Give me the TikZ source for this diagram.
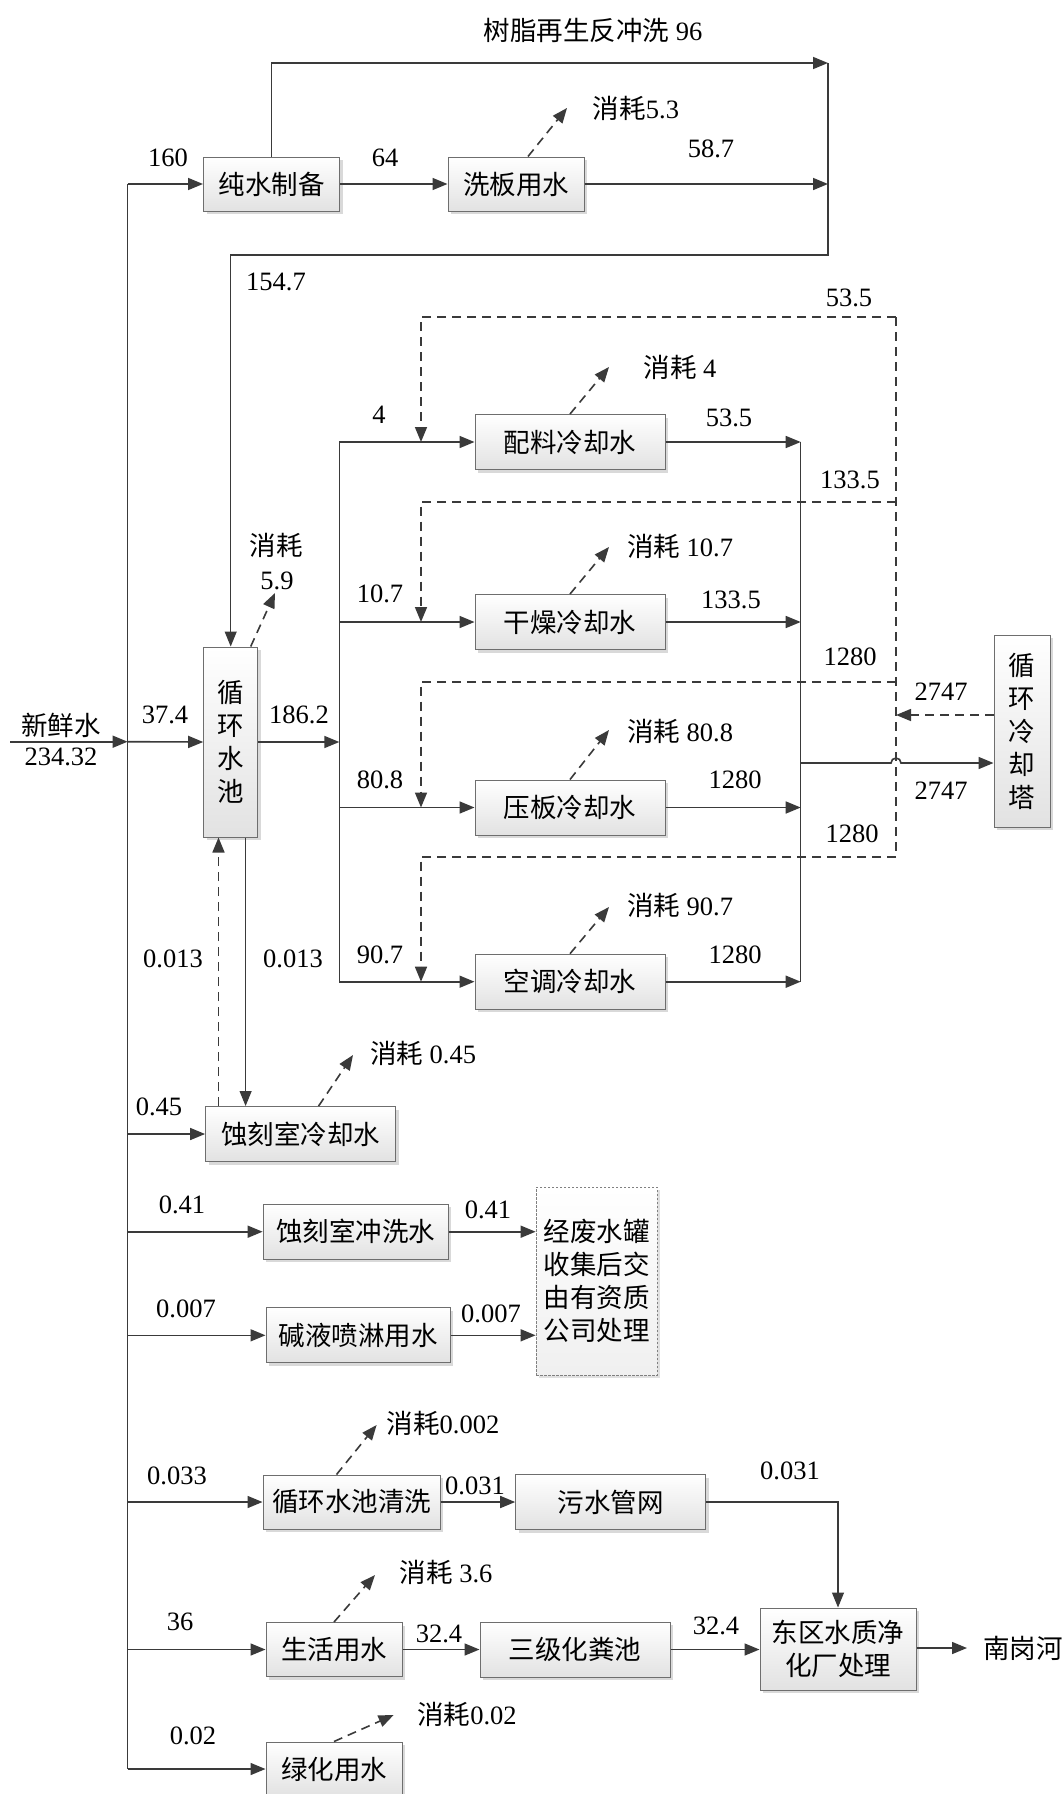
\documentclass[tikz,border=0pt]{standalone}
\usepackage{fontspec}
\setmainfont{Liberation Serif}
\newfontfamily\cjk{Noto Sans CJK SC}
\usetikzlibrary{arrows.meta,shadows}
\definecolor{lc}{HTML}{3A3A3A}
\definecolor{bc}{HTML}{6E6E6E}
\definecolor{boxbot}{HTML}{E2E2E2}
\newcommand\cj[1]{{\cjk #1}}
\begin{document}
\begin{tikzpicture}[x=1pt,y=-1pt,
  every node/.style={font=\fontsize{26.5}{33}\selectfont, inner sep=0pt},
  ln/.style={draw=lc, line width=1.6pt},
  tn/.style={draw=lc, line width=1.1pt},
  arr/.style={ln, -{Triangle[length=15pt,width=12pt]}},
  tarr/.style={tn, -{Triangle[length=15pt,width=12pt]}},
  dln/.style={ln, dash pattern=on 9pt off 6pt},
  darr/.style={arr, dash pattern=on 9pt off 6pt},
  box/.style={draw=bc, line width=1pt, top color=white, bottom color=boxbot, align=center,
    font=\fontsize{26.5}{33}\selectfont\cjk,
    drop shadow={shadow xshift=3pt,shadow yshift=-3pt,fill=black!15,opacity=1}},
  wbox/.style={box, minimum width=190, minimum height=55},
  sbox/.style={box, minimum width=136, minimum height=54},
]
\useasboundingbox[fill=white] (0,0) rectangle (1064,1794);

% ---------------- boxes ----------------
\node[sbox] (chun) at (271.5,184) {纯水制备};
\node[sbox] (xiban) at (516,184) {洗板用水};
\node[box, minimum width=54, minimum height=190] (pool) at (230.7,742) {循\\环\\水\\池};
\node[wbox] (peiliao) at (570,442) {配料冷却水};
\node[wbox] (ganzao) at (570,622) {干燥冷却水};
\node[wbox] (yaban) at (570,807.5) {压板冷却水};
\node[wbox] (kongtiao) at (570,981.7) {空调冷却水};
\node[box, minimum width=56, minimum height=192] (tower) at (1022,731) {循\\环\\冷\\却\\塔};
\node[wbox] (shike) at (300.6,1134) {蚀刻室冷却水};
\node[box, minimum width=185, minimum height=55] (chongxi) at (355.6,1231.7) {蚀刻室冲洗水};
\node[box, minimum width=184, minimum height=55] (jianye) at (358,1335.3) {碱液喷淋用水};
\node[draw=gray, dash pattern=on 2.5pt off 1.5pt, line width=0.8pt, top color=white, bottom color=black!6,
  align=center, font=\fontsize{26.5}{33}\selectfont\cjk, minimum width=121, minimum height=188,
  drop shadow={shadow xshift=3pt,shadow yshift=-3pt,fill=black!12,opacity=1}] (fei) at (596.5,1281)
  {经废水罐\\收集后交\\由有资质\\公司处理};
\node[box, minimum width=177, minimum height=54] (qingxi) at (351.5,1502) {循环水池清洗};
\node[wbox] (wushui) at (610.7,1502) {污水管网};
\node[sbox] (shenghuo) at (334,1649.5) {生活用水};
\node[wbox] (sanji) at (575,1649.5) {三级化粪池};
\node[box, minimum width=156, minimum height=82] (dongqu) at (838,1649) {东区水质净\\化厂处理};
\node[sbox] (lvhua) at (334,1769) {绿化用水};
\node (river) at (1023,1648) {\cj{南岗河}};

% ---------------- coordinates ----------------
\coordinate (fw) at (10,741.7);
\coordinate (tT) at (127.6,184);
\coordinate (tB) at (127.6,1769);
\coordinate (top1) at (271.5,63);
\coordinate (top2) at (828,63);
\coordinate (ret1) at (828,255);
\coordinate (ret2) at (230.7,255);
\coordinate (iT) at (339.3,442);
\coordinate (iB) at (339.3,981.7);
\coordinate (cT) at (800.7,442);
\coordinate (cB) at (800.7,981.7);
\coordinate (r1) at (896,317);
\coordinate (r2) at (896,501.7);
\coordinate (r3) at (896,681.7);
\coordinate (r4) at (896,856.7);
\coordinate (l1) at (421,317);
\coordinate (l2) at (421,501.7);
\coordinate (l3) at (421,681.7);
\coordinate (l4) at (421,856.7);
\coordinate (tw1) at ([yshift=16pt]tower.west);
\coordinate (tw2) at ([yshift=-32pt]tower.west);
\coordinate (hop) at (r1 |- tw2);
\coordinate (wsc) at (838,1502);
\coordinate (riv) at (967,1648);

% ---------------- main flow ----------------
\draw[arr] (fw) -- (fw -| tT);
\draw[ln] (tT) -- (tB);
\draw[arr] (fw -| tT) -- (pool.west);
\draw[arr] (tT) -- (chun.west);
\draw[arr] (chun) -- (xiban);
\draw[arr] (xiban.east) -- (xiban.east -| top2);
\draw[arr] (chun.north) -- (top1) -- (top2);
\draw[tarr] (top2) -- (ret1) -- (ret2) -- (pool.north);
\draw[arr] (pool.east) -- (pool.east -| iT);
\draw[ln] (iT) -- (iB);
\foreach \b in {peiliao,ganzao,yaban,kongtiao}{
  \draw[arr] (\b.west -| iT) -- (\b.west);
  \draw[arr] (\b.east) -- (\b.east -| cT);
}
\draw[tn] (cT) -- (cB);
\draw[arr] (cT |- tw2) -- ([xshift=-5pt]hop) arc[start angle=180,end angle=360,radius=5] -- (tw2);
\draw[darr] (tw1) -- (tw1 -| r1);
\draw[dln] (r1) -- (r4);
\draw[darr] (r1) -- (l1) -- (l1 |- peiliao.west);
\draw[darr] (r2) -- (l2) -- (l2 |- ganzao.west);
\draw[darr] (r3) -- (l3) -- (l3 |- yaban.west);
\draw[darr] (r4) -- (l4) -- (l4 |- kongtiao.west);

% pool <-> etching cooling
\draw[darr] (shike.north -| 218.5,0) -- (pool.south -| 218.5,0);
\draw[tarr] (pool.south -| 245.6,0) -- (shike.north -| 245.6,0);

\foreach \b in {shike,chongxi,jianye,qingxi,shenghuo,lvhua}{
  \draw[arr] (\b.west -| tT) -- (\b.west);
}
\draw[arr] (chongxi.east) -- (chongxi.east -| fei.west);
\draw[arr] (jianye.east) -- (jianye.east -| fei.west);
\draw[arr] (qingxi) -- (wushui);
\draw[tarr] (wushui.east) -- (wsc) -- (dongqu.north);
\draw[arr] (shenghuo) -- (sanji);
\draw[arr] (sanji.east) -- (sanji.east -| dongqu.west);
\draw[arr] (dongqu.east |- riv) -- (riv);

% ---------------- consumption arrows ----------------
\draw[darr] ([xshift=12pt]xiban.north) -- (567,108);
\draw[darr] (peiliao.north) -- (609,367);
\draw[darr] (ganzao.north) -- (609,547);
\draw[darr] (yaban.north) -- (609,730);
\draw[darr] (kongtiao.north) -- (609,907);
\draw[darr] ([xshift=20pt]pool.north) -- (275,593);
\draw[darr] ([xshift=18pt]shike.north) -- (353,1055);
\draw[darr] ([xshift=-15pt]qingxi.north) -- (376.6,1425);
\draw[darr] (shenghuo.north) -- (375,1575);
\draw[darr] (lvhua.north) -- (393.6,1715);

% ---------------- labels ----------------
\node (t0) at (593,30) {\cj{树脂再生反冲洗} 96};
\node (a1) at (168,158) {160};
\node (a2) at (385,158) {64};
\node (a3) at (711,149) {58.7};
\node (a4) at (636,108) {\cj{消耗}5.3};
\node (a5) at (276,282) {154.7};
\node (b1) at (849,298) {53.5};
\node (b2) at (379,415) {4};
\node (b3) at (729,418) {53.5};
\node (b4) at (680,367) {\cj{消耗} 4};
\node (b5) at (850,480) {133.5};
\node (b6) at (380,594) {10.7};
\node (b7) at (731,600) {133.5};
\node (b8) at (680,546) {\cj{消耗} 10.7};
\node (b9) at (276,545) {\cj{消耗}};
\node (b10) at (277,581) {5.9};
\node (c1) at (850,657) {1280};
\node (c2) at (941,692) {2747};
\node (c3) at (380,780) {80.8};
\node (c4) at (735,780) {1280};
\node (c5) at (680,731) {\cj{消耗} 80.8};
\node (c6) at (941,791) {2747};
\node (c7) at (852,834) {1280};
\node (c8) at (380,955) {90.7};
\node (c9) at (735,955) {1280};
\node (c10) at (680,905) {\cj{消耗} 90.7};
\node (d1) at (61,725) {\cj{新鲜水}};
\node (d2) at (61,757) {234.32};
\node (d3) at (165,715) {37.4};
\node (d4) at (299,715) {186.2};
\node (d5) at (173,959) {0.013};
\node (d6) at (293,959) {0.013};
\node (e1) at (159,1107) {0.45};
\node (e2) at (423,1053) {\cj{消耗} 0.45};
\node (e3) at (182,1205) {0.41};
\node (e4) at (488,1210) {0.41};
\node (e5) at (186,1309) {0.007};
\node (e6) at (491,1314) {0.007};
\node (f1) at (443,1423) {\cj{消耗}0.002};
\node (f2) at (177,1476) {0.033};
\node (f3) at (475,1486) {0.031};
\node (f4) at (790,1471) {0.031};
\node (f5) at (446,1572) {\cj{消耗} 3.6};
\node (f6) at (180,1622) {36};
\node (f7) at (439,1634) {32.4};
\node (f8) at (716,1626) {32.4};
\node (f9) at (467,1714) {\cj{消耗}0.02};
\node (f10) at (193,1736) {0.02};
\end{tikzpicture}
\end{document}
